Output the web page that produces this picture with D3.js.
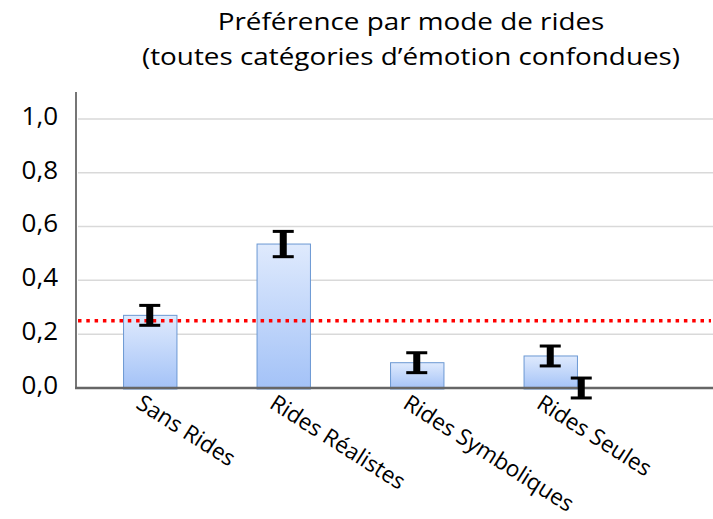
<!DOCTYPE html>
<html>
<head>
<meta charset="utf-8">
<script src="https://cdn.jsdelivr.net/npm/d3@7"></script>
<style>
  html, body { margin: 0; padding: 0; background: #fff; }
  svg { display: block; }
  text { font-family: "Open Sans", "Noto Sans", sans-serif; fill: #000; }
</style>
</head>
<body>
<svg id="chart" width="713" height="519"></svg>
<script>
// Mean preference per wrinkle mode, with error bar half-widths
const categories = ["Sans Rides", "Rides Réalistes", "Rides Symboliques", "Rides Seules"];
const preference = [0.27, 0.535, 0.094, 0.119];
const preferenceError = [0.037, 0.047, 0.037, 0.037];
// Second series: only an error bar around zero is visible
const secondValues = [null, null, null, 0];
const secondError = [null, null, null, 0.037];
// Chance level (1 out of 4)
const chanceLevel = 0.25;
const yTicks = [0, 0.2, 0.4, 0.6, 0.8, 1.0];
const titleLines = ["Préférence par mode de rides", "(toutes catégories d’émotion confondues)"];

const svg = d3.select("#chart");
const plotLeft = 76, plotRight = 713, plotTop = 92, plotBottom = 388;

const y = d3.scaleLinear().domain([0, 1.1]).range([plotBottom, plotTop]);
const x0 = d3.scaleBand().domain(categories).range([83, 617])
  .paddingInner(0.6).paddingOuter(0.3);
const x1 = d3.scalePoint().domain(["pref", "second"]).range([0, 31]);

const fmt = v => d3.format(".1f")(v).replace(".", ",");

// Gradient fill for bars
const defs = svg.append("defs");
const grad = defs.append("linearGradient").attr("id", "barGrad")
  .attr("x1", 0).attr("y1", 0).attr("x2", 0).attr("y2", 1);
grad.append("stop").attr("offset", "0%").attr("stop-color", "#dfeafd");
grad.append("stop").attr("offset", "100%").attr("stop-color", "#a3c2f7");

// Title (slightly widened lettering)
svg.append("g").attr("transform", "translate(411,0) scale(1.16,1)")
  .selectAll("text").data(titleLines).join("text")
  .attr("x", 0).attr("y", (d, i) => 30 + i * 35)
  .attr("text-anchor", "middle")
  .style("font-size", "24px")
  .text(d => d);

// Gridlines
svg.append("g").selectAll("line").data(yTicks.filter(t => t > 0)).join("line")
  .attr("x1", plotLeft + 2).attr("x2", plotRight)
  .attr("y1", d => y(d)).attr("y2", d => y(d))
  .attr("stroke", "#d9d9d9").attr("stroke-width", 1.5);

// Y tick labels
svg.append("g").selectAll("text").data(yTicks).join("text")
  .attr("x", 58).attr("y", d => y(d) + 5.8)
  .attr("text-anchor", "end")
  .style("font-size", "26px")
  .text(fmt);

// Bars
svg.append("g").selectAll("rect").data(categories).join("rect")
  .attr("x", d => x0(d) + x1("pref") + 0.5)
  .attr("width", x0.bandwidth())
  .attr("y", (d, i) => y(preference[i]))
  .attr("height", (d, i) => y(0) - y(preference[i]) + 1)
  .attr("fill", "url(#barGrad)")
  .attr("stroke", "#6b98d3").attr("stroke-width", 1);

// Chance level line
svg.append("line")
  .attr("x1", plotLeft + 2).attr("x2", 711)
  .attr("y1", y(chanceLevel)).attr("y2", y(chanceLevel))
  .attr("stroke", "#ff0000").attr("stroke-width", 3.5)
  .attr("stroke-dasharray", "3.5,4.8");

// Axis lines
svg.append("line")
  .attr("x1", plotLeft).attr("x2", plotLeft)
  .attr("y1", plotTop).attr("y2", plotBottom + 1)
  .attr("stroke", "#767676").attr("stroke-width", 2);
svg.append("line")
  .attr("x1", plotLeft - 1).attr("x2", plotRight)
  .attr("y1", plotBottom).attr("y2", plotBottom)
  .attr("stroke", "#666").attr("stroke-width", 2.5);

// Error bars (I-beam)
function errorBar(g, cx, v, e) {
  const yt = y(v + e), yb = y(v - e);
  g.append("rect").attr("x", cx - 3.5).attr("width", 7)
    .attr("y", yt).attr("height", yb - yt).attr("fill", "#000");
  [yt, yb].forEach(yy => {
    g.append("rect").attr("x", cx - 10.5).attr("width", 21)
      .attr("y", yy - 1.5).attr("height", 3).attr("fill", "#000");
  });
}
const eg = svg.append("g");
categories.forEach((c, i) => {
  const cx = x0(c) + x1("pref") + x0.bandwidth() / 2;
  errorBar(eg, cx, preference[i], preferenceError[i]);
  if (secondValues[i] !== null) {
    errorBar(eg, cx + x1("second"), secondValues[i], secondError[i]);
  }
});

// Category labels, rotated
svg.append("g").selectAll("text").data(categories).join("text")
  .attr("transform", d => `translate(${x0(d) + x0.bandwidth() / 2 - 15},${plotBottom + 19}) rotate(32.5)`)
  .attr("text-anchor", "start")
  .style("font-size", "22.5px")
  .text(d => d);
</script>
</body>
</html>
